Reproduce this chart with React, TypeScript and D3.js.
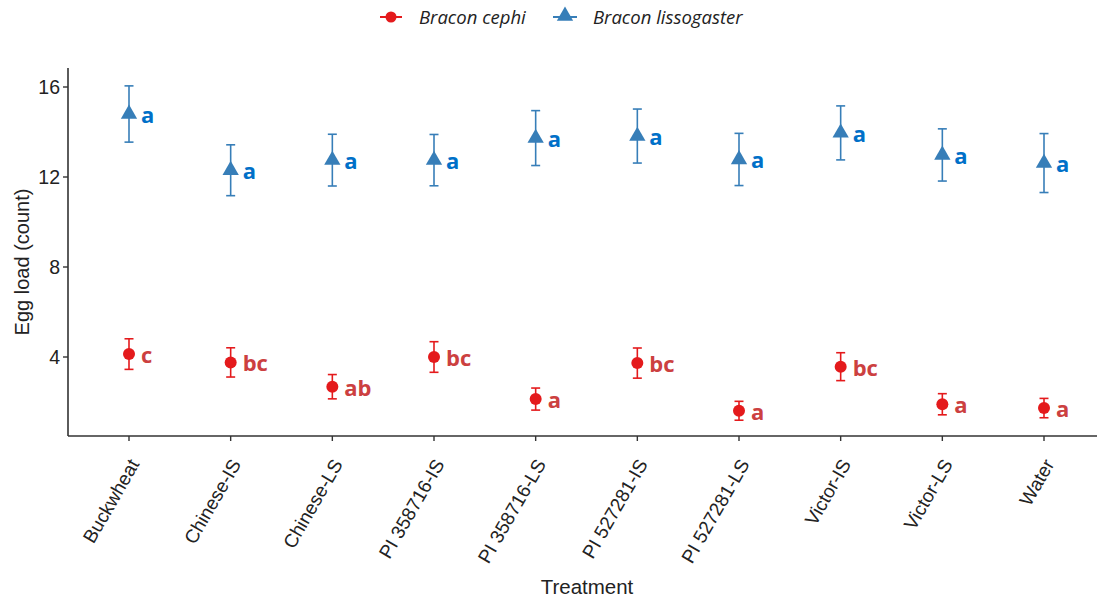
import React from "react";
import * as d3 from "d3";

const categories = ["Buckwheat", "Chinese-IS", "Chinese-LS", "PI 358716-IS", "PI 358716-LS", "PI 527281-IS", "PI 527281-LS", "Victor-IS", "Victor-LS", "Water"];
const cephiMean = [4.13, 3.76, 2.68, 4.0, 2.13, 3.73, 1.61, 3.57, 1.9, 1.73];
const cephiErr = [0.68, 0.65, 0.54, 0.68, 0.49, 0.67, 0.42, 0.62, 0.47, 0.43];
const cephiLetters = ["c", "bc", "ab", "bc", "a", "bc", "a", "bc", "a", "a"];
const lissoMean = [14.8, 12.3, 12.75, 12.75, 13.73, 13.82, 12.78, 13.96, 12.98, 12.62];
const lissoErr = [1.25, 1.13, 1.15, 1.14, 1.22, 1.2, 1.16, 1.2, 1.16, 1.31];
const lissoLetters = ["a", "a", "a", "a", "a", "a", "a", "a", "a", "a"];
const yTicks = [4, 8, 12, 16];

const RED = "#E41A1C";
const BLUE = "#377EB8";
const RED_TXT = "#CC4040";
const BLUE_TXT = "#0070C8";

export default function App() {
  const W = 1097, H = 600;
  const left = 68, right = 1105, top = 68, bottom = 436;
  const x = d3.scalePoint<string>().domain(categories).range([left, right]).padding(0.6);
  const y = d3.scaleLinear().domain([0, 16]).range([447, 87]);
  const tri = d3.symbol().type(d3.symbolTriangle).size(115)();
  const cap = 4.5;
  const sans = "'Liberation Sans', Arial, sans-serif";
  return (
    <svg width={W} height={H} style={{ display: "block", position: "absolute", left: 0, top: 0 }}>
      {/* legend */}
      <g>
        <line x1={380} x2={402} y1={17} y2={17} stroke={RED} strokeWidth={2} />
        <circle cx={391} cy={17} r={5.5} fill={RED} />
        <text x={419} y={24} fontFamily="'Open Sans', sans-serif" fontStyle="italic" fontSize={18.5} fill="#222">Bracon cephi</text>
        <line x1={553} x2={577} y1={17} y2={17} stroke={BLUE} strokeWidth={2} />
        <path d={tri!} transform="translate(565,16)" fill={BLUE} />
        <text x={593} y={24} fontFamily="'Open Sans', sans-serif" fontStyle="italic" fontSize={18.5} fill="#222">Bracon lissogaster</text>
      </g>
      {/* axes */}
      <line x1={left} x2={left} y1={top} y2={bottom} stroke="#333" strokeWidth={1.6} />
      <line x1={left} x2={W} y1={bottom} y2={bottom} stroke="#333" strokeWidth={1.6} />
      {yTicks.map((t) => (
        <g key={t}>
          <line x1={left - 5} x2={left} y1={y(t)} y2={y(t)} stroke="#333" strokeWidth={1.4} />
          <text x={left - 8} y={y(t) + 7} textAnchor="end" fontFamily={sans} fontSize={19.5} fill="#222">{t}</text>
        </g>
      ))}
      {categories.map((c) => (
        <g key={c}>
          <line x1={x(c)!} x2={x(c)!} y1={bottom} y2={bottom + 5} stroke="#333" strokeWidth={1.4} />
          <text transform={`translate(${x(c)! + 11},${bottom + 28}) rotate(-60)`} textAnchor="end" fontFamily={sans} fontSize={19} fill="#222">{c}</text>
        </g>
      ))}
      <text x={587} y={594} textAnchor="middle" fontFamily={sans} fontSize={20.5} fill="#222">Treatment</text>
      <text transform={`translate(29,262) rotate(-90)`} textAnchor="middle" fontFamily={sans} fontSize={20} fill="#222">Egg load (count)</text>
      {/* series */}
      {categories.map((c, i) => {
        const cx = x(c)!;
        return (
          <g key={"b" + c}>
            <line x1={cx} x2={cx} y1={y(lissoMean[i] + lissoErr[i])} y2={y(lissoMean[i] - lissoErr[i])} stroke={BLUE} strokeWidth={1.6} />
            <line x1={cx - cap} x2={cx + cap} y1={y(lissoMean[i] + lissoErr[i])} y2={y(lissoMean[i] + lissoErr[i])} stroke={BLUE} strokeWidth={1.6} />
            <line x1={cx - cap} x2={cx + cap} y1={y(lissoMean[i] - lissoErr[i])} y2={y(lissoMean[i] - lissoErr[i])} stroke={BLUE} strokeWidth={1.6} />
            <path d={tri!} transform={`translate(${cx},${y(lissoMean[i])})`} fill={BLUE} />
            <text x={cx + 12} y={y(lissoMean[i]) + 9} fontFamily="'Open Sans', sans-serif" fontWeight={700} fontSize={22} fill={BLUE_TXT}>{lissoLetters[i]}</text>
          </g>
        );
      })}
      {categories.map((c, i) => {
        const cx = x(c)!;
        return (
          <g key={"r" + c}>
            <line x1={cx} x2={cx} y1={y(cephiMean[i] + cephiErr[i])} y2={y(cephiMean[i] - cephiErr[i])} stroke={RED} strokeWidth={1.6} />
            <line x1={cx - cap} x2={cx + cap} y1={y(cephiMean[i] + cephiErr[i])} y2={y(cephiMean[i] + cephiErr[i])} stroke={RED} strokeWidth={1.6} />
            <line x1={cx - cap} x2={cx + cap} y1={y(cephiMean[i] - cephiErr[i])} y2={y(cephiMean[i] - cephiErr[i])} stroke={RED} strokeWidth={1.6} />
            <circle cx={cx} cy={y(cephiMean[i])} r={6} fill={RED} />
            <text x={cx + 12} y={y(cephiMean[i]) + 9} fontFamily="'Open Sans', sans-serif" fontWeight={700} fontSize={22} fill={RED_TXT}>{cephiLetters[i]}</text>
          </g>
        );
      })}
    </svg>
  );
}
